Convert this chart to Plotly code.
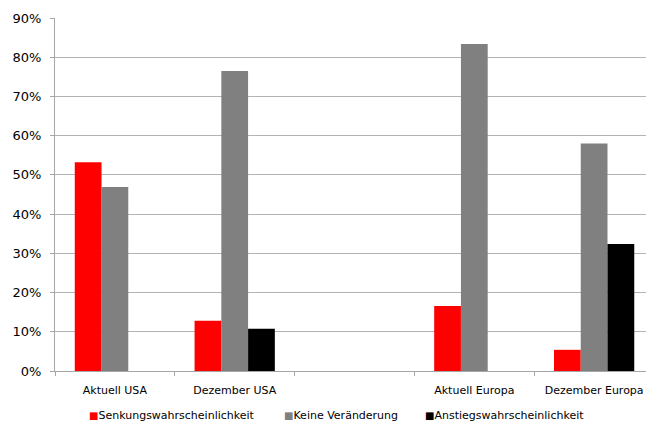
import plotly.graph_objects as go

categories = ["Aktuell USA", "Dezember USA", " ", "Aktuell Europa", "Dezember Europa"]
senkung = [53.2, 12.8, None, 16.6, 5.4]
keine = [46.9, 76.5, None, 83.4, 58.0]
anstieg = [None, 10.8, None, None, 32.4]
series_names = ["Senkungswahrscheinlichkeit", "Keine Veränderung", "Anstiegswahrscheinlichkeit"]
series_colors = ["#FF0000", "#808080", "#000000"]
y_ticks = list(range(0, 91, 10))

FONT = "DejaVu Sans"
W, H = 646, 424
ML, MR, MT, MB = 55, 0, 18, 53

fig = go.Figure()
for name, vals, col in zip(series_names, [senkung, keine, anstieg], series_colors):
    fig.add_trace(go.Bar(x=categories, y=vals, name=name, marker=dict(color=col, line=dict(width=0))))

# legend drawn as text row below the chart (keeps plot area fixed)
legend_left_px = [87, 282, 423]
for name, col, lx in zip(series_names, series_colors, legend_left_px):
    fig.add_annotation(
        xref="paper", yref="paper",
        x=(lx - ML) / (W - ML - MR), y=-(415 - (H - MB)) / (H - MT - MB),
        xanchor="left", yanchor="middle", showarrow=False,
        text=f'<span style="color:{col};font-size:10px">■</span>{name}',
        font=dict(family=FONT, size=11, color="#000000"),
    )

fig.update_layout(
    width=W, height=H,
    margin=dict(l=ML, r=MR, t=MT, b=MB),
    paper_bgcolor="white", plot_bgcolor="white",
    barmode="group", bargap=0.33, bargroupgap=0,
    font=dict(family=FONT, size=11, color="#000000"),
    showlegend=False,
    xaxis=dict(
        type="category", range=[-0.5, 4.433],
        showline=True, linecolor="#A6A6A6", linewidth=1,
        ticks="outside", tickson="boundaries", ticklen=4, tickcolor="#A6A6A6",
        tickfont=dict(family=FONT, size=11), showgrid=False,
        ticklabelstandoff=9,
    ),
    yaxis=dict(
        range=[0, 90], tickvals=y_ticks, ticktext=[f"{v}%" for v in y_ticks],
        showline=True, linecolor="#A6A6A6", linewidth=1,
        ticks="outside", ticklen=4, tickcolor="#A6A6A6",
        showgrid=True, gridcolor="#B3B3B3", gridwidth=1,
        tickfont=dict(family=FONT, size=13), zeroline=False,
        ticklabelstandoff=6,
    ),
)

fig.write_html("out.html")
